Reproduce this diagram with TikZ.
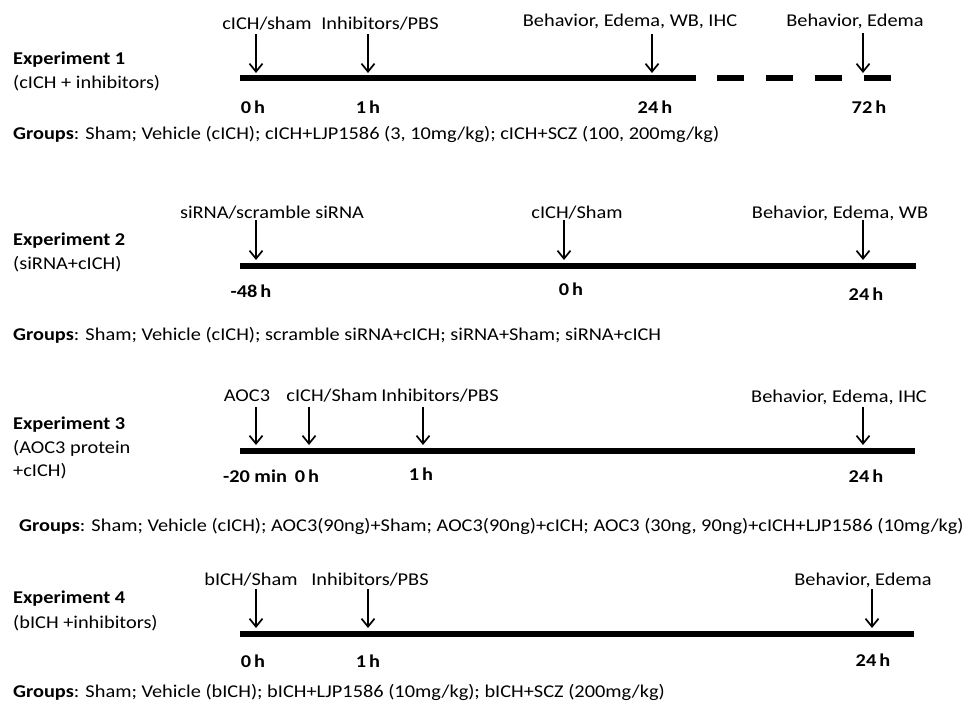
\documentclass[tikz,border=0pt]{standalone}
\usepackage{fontspec}
\setmainfont{Carlito}[FakeStretch=1.13]
\usetikzlibrary{arrows.meta}
\begin{document}
\begin{tikzpicture}[x=1pt,y=-1pt,
  txt/.style={font=\fontsize{18}{21}\selectfont, inner sep=0pt, anchor=mid},
  ltxt/.style={txt, anchor=mid west},
  btxt/.style={ltxt, font=\fontsize{18}{21}\selectfont\bfseries},
  htxt/.style={txt, font=\fontsize{18}{21}\selectfont\bfseries},
  tline/.style={line width=6pt},
  arr/.style={line width=1.7pt, -{Straight Barb[width=13pt,length=8pt,line width=1.7pt]}}
]
\useasboundingbox (0,0) rectangle (969,701);
\fill[white] (0,0) rectangle (969,701);

% ---------------- Experiment 1
\node[btxt] (e1) at (13,62) {Experiment 1};
\node[ltxt] (e1s) at (13,86) {(cICH + inhibitors)};
\coordinate (t1a) at (240,78); \coordinate (t1b) at (696,78);
\coordinate (t1c) at (717,78); \coordinate (t1d) at (893,78);
\draw[tline] (t1a) -- (t1b);
\draw[tline, dash pattern=on 27pt off 22pt] (t1c) -- (t1d);
\node[txt] (l11) at (267,27) {cICH/sham};
\node[txt] (l12) at (380,27) {Inhibitors/PBS};
\node[txt] (l13) at (630,24) {Behavior, Edema, WB, IHC};
\node[txt] (l14) at (855,24) {Behavior, Edema};
\coordinate (a11t) at (256,34); \coordinate (a11b) at (256,73);
\coordinate (a12t) at (368,34); \coordinate (a12b) at (368,73);
\coordinate (a13t) at (652,34); \coordinate (a13b) at (652,73);
\coordinate (a14t) at (863,33); \coordinate (a14b) at (863,73);
\draw[arr] (a11t) -- (a11b);
\draw[arr] (a12t) -- (a12b);
\draw[arr] (a13t) -- (a13b);
\draw[arr] (a14t) -- (a14b);
\node[htxt] (h11) at (253,111) {0\,h};
\node[htxt] (h12) at (368,111) {1\,h};
\node[htxt] (h13) at (655,111) {24\,h};
\node[htxt] (h14) at (869,111) {72\,h};
\node[ltxt] (g1) at (13,137) {\textbf{Groups}: Sham; Vehicle (cICH); cICH+LJP1586 (3, 10mg/kg); cICH+SCZ (100, 200mg/kg)};

% ---------------- Experiment 2
\node[btxt] (e2) at (13,243) {Experiment 2};
\node[ltxt] (e2s) at (13,267) {(siRNA+cICH)};
\coordinate (t2a) at (240,266); \coordinate (t2b) at (916,266);
\draw[tline] (t2a) -- (t2b);
\node[txt] (l21) at (272,216) {siRNA/scramble siRNA};
\node[txt] (l22) at (577,216) {cICH/Sham};
\node[txt] (l23) at (840,216) {Behavior, Edema, WB};
\coordinate (a21t) at (256,220); \coordinate (a21b) at (256,260);
\coordinate (a22t) at (564,220); \coordinate (a22b) at (564,260);
\coordinate (a23t) at (863,220); \coordinate (a23b) at (863,260);
\draw[arr] (a21t) -- (a21b);
\draw[arr] (a22t) -- (a22b);
\draw[arr] (a23t) -- (a23b);
\node[htxt] (h21) at (251,295) {-48\,h};
\node[htxt] (h22) at (571,293) {0\,h};
\node[htxt] (h23) at (866,298) {24\,h};
\node[ltxt] (g2) at (13,338) {\textbf{Groups}: Sham; Vehicle (cICH); scramble siRNA+cICH; siRNA+Sham; siRNA+cICH};

% ---------------- Experiment 3
\node[btxt] (e3) at (13,427) {Experiment 3};
\node[ltxt] (e3s) at (13,451) {(AOC3 protein};
\node[ltxt] (e3t) at (13,474) {+cICH)};
\coordinate (t3a) at (240,451); \coordinate (t3b) at (915,451);
\draw[tline] (t3a) -- (t3b);
\node[txt] (l31) at (247,399) {AOC3};
\node[txt] (l32) at (332,399) {cICH/Sham};
\node[txt] (l33) at (440,399) {Inhibitors/PBS};
\node[txt] (l34) at (839,400) {Behavior, Edema, IHC};
\coordinate (a31t) at (256,407); \coordinate (a31b) at (256,445);
\coordinate (a32t) at (309,407); \coordinate (a32b) at (309,445);
\coordinate (a33t) at (423,407); \coordinate (a33b) at (423,445);
\coordinate (a34t) at (863,407); \coordinate (a34b) at (863,445);
\draw[arr] (a31t) -- (a31b);
\draw[arr] (a32t) -- (a32b);
\draw[arr] (a33t) -- (a33b);
\draw[arr] (a34t) -- (a34b);
\node[htxt] (h31) at (255,480) {-20 min};
\node[htxt] (h32) at (307,480) {0\,h};
\node[htxt] (h33) at (421,478) {1\,h};
\node[htxt] (h34) at (866,480) {24\,h};
\node[ltxt] (g3) at (19,529) {\textbf{Groups}: Sham; Vehicle (cICH); AOC3(90ng)+Sham; AOC3(90ng)+cICH; AOC3 (30ng, 90ng)+cICH+LJP1586 (10mg/kg)};

% ---------------- Experiment 4
\node[btxt] (e4) at (13,601) {Experiment 4};
\node[ltxt] (e4s) at (13,626) {(bICH +inhibitors)};
\coordinate (t4a) at (240,634); \coordinate (t4b) at (914,634);
\draw[tline] (t4a) -- (t4b);
\node[txt] (l41) at (251,583) {bICH/Sham};
\node[txt] (l42) at (370,583) {Inhibitors/PBS};
\node[txt] (l43) at (863,583) {Behavior, Edema};
\coordinate (a41t) at (256,589); \coordinate (a41b) at (256,628);
\coordinate (a42t) at (368,589); \coordinate (a42b) at (368,628);
\coordinate (a43t) at (872,589); \coordinate (a43b) at (872,628);
\draw[arr] (a41t) -- (a41b);
\draw[arr] (a42t) -- (a42b);
\draw[arr] (a43t) -- (a43b);
\node[htxt] (h41) at (253,665) {0\,h};
\node[htxt] (h42) at (368,665) {1\,h};
\node[htxt] (h43) at (873,664) {24\,h};
\node[ltxt] (g4) at (13,695) {\textbf{Groups}: Sham; Vehicle (bICH); bICH+LJP1586 (10mg/kg); bICH+SCZ (200mg/kg)};
\end{tikzpicture}
\end{document}
